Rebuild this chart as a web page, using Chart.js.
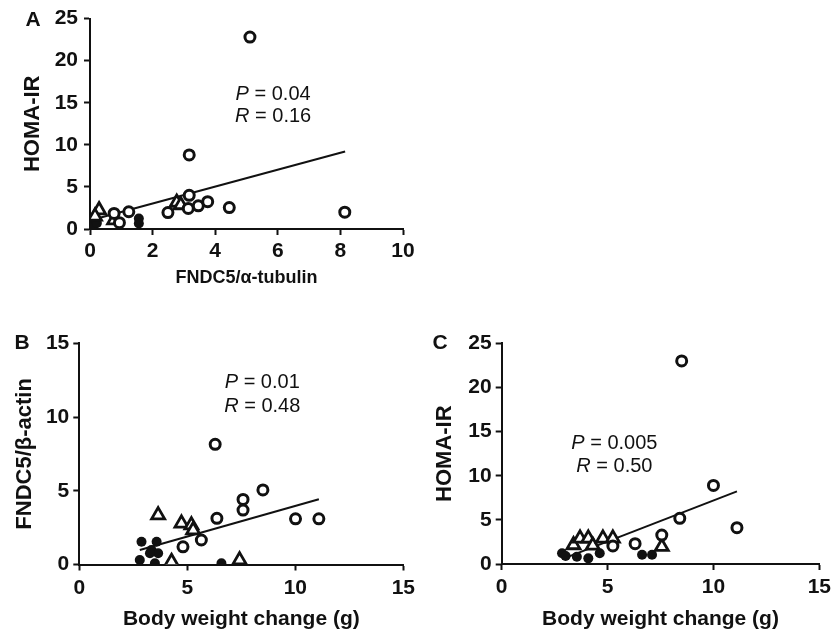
<!DOCTYPE html>
<html><head><meta charset="utf-8">
<script src="https://cdn.jsdelivr.net/npm/chart.js@4.4.1/dist/chart.umd.min.js"></script>
<style>
body{margin:0;background:#fff;width:836px;height:632px;position:relative;overflow:hidden}
.p{position:absolute}
canvas{display:block}
</style></head><body>
<div class="p" style="left:0;top:0"><canvas id="cA" width="420" height="295"></canvas></div>
<div class="p" style="left:0;top:320px"><canvas id="cB" width="420" height="312"></canvas></div>
<div class="p" style="left:420px;top:320px"><canvas id="cC" width="416" height="312"></canvas></div>
<script>
// ---- Panel A: HOMA-IR vs FNDC5/alpha-tubulin ----
const aCircX = [5.11, 3.17, 3.17, 3.14, 3.46, 3.76, 4.45, 8.14, 2.49, 1.24, 0.77, 0.94];
const aCircY = [22.8, 8.8, 4.0, 2.45, 2.75, 3.25, 2.55, 2.0, 1.95, 2.05, 1.85, 0.75];
const aTriX = [0.29, 0.16, 0.77, 2.77, 2.9];
const aTriY = [2.25, 1.5, 1.05, 3.15, 2.85];
const aDotX = [0.02, 0.1, 1.56, 1.56, 0.22];
const aDotY = [1.05, 0.35, 1.25, 0.65, 0.7];
const aFitX = [0.05, 8.15];
const aFitY = [1.06, 9.21];
const aXTicks = [0, 10, 2];   // min, max, step
const aYTicks = [0, 25, 5];
const aStats = ['0.04', '0.16'];

// ---- Panel B: FNDC5/beta-actin vs body weight change ----
const bCircX = [6.29, 8.5, 7.58, 7.58, 6.37, 10.01, 11.09, 5.65, 4.8];
const bCircY = [8.15, 5.06, 4.41, 3.69, 3.13, 3.1, 3.1, 1.66, 1.2];
const bTriX = [3.65, 4.73, 5.19, 5.27, 4.27, 7.42];
const bTriY = [3.35, 2.79, 2.67, 2.33, 0.19, 0.3];
const bDotX = [2.88, 3.58, 3.34, 3.65, 3.27, 2.8, 3.5, 6.58];
const bDotY = [1.54, 1.54, 0.98, 0.76, 0.76, 0.3, 0.08, 0.08];
const bFitX = [2.8, 11.09];
const bFitY = [0.98, 4.43];
const bXTicks = [0, 15, 5];
const bYTicks = [0, 15, 5];
const bStats = ['0.01', '0.48'];

// ---- Panel C: HOMA-IR vs body weight change ----
const cCircX = [8.5, 10.0, 8.41, 11.11, 7.56, 6.3, 5.25];
const cCircY = [23.0, 8.9, 5.17, 4.11, 3.28, 2.3, 2.04];
const cTriX = [3.39, 3.7, 4.09, 4.3, 4.78, 5.25, 7.56];
const cTriY = [2.15, 2.9, 2.9, 2.1, 2.9, 2.9, 1.96];
const cDotX = [2.85, 3.02, 3.55, 4.09, 4.63, 6.63, 7.1];
const cDotY = [1.21, 0.9, 0.83, 0.64, 1.21, 1.05, 1.05];
const cFitX = [2.85, 11.11];
const cFitY = [0.55, 8.22];
const cXTicks = [0, 15, 5];
const cYTicks = [0, 25, 5];
const cStats = ['0.005', '0.50'];

const FONT = '"Liberation Sans", Arial, Helvetica, sans-serif';
const INK = '#111';

function pts(xs, ys){ return xs.map((x,i)=>({x:x, y:ys[i]})); }

function datasets(cx, cy, tx, ty, dx, dy, fx, fy){
  return [
    {type:'scatter', data:pts(cx,cy), pointStyle:'circle', pointRadius:5, borderWidth:3,
     borderColor:INK, backgroundColor:'#fff', pointBackgroundColor:'#fff', order:1},
    {type:'scatter', data:pts(tx,ty), pointStyle:'triangle', pointRadius:7.5, borderWidth:2.8,
     borderColor:INK, backgroundColor:'#fff', pointBackgroundColor:'#fff', order:2},
    {type:'scatter', data:pts(dx,dy), pointStyle:'circle', pointRadius:5, borderWidth:0,
     borderColor:INK, backgroundColor:INK, order:3},
    {type:'line', data:pts(fx,fy), pointRadius:0, borderWidth:2, borderColor:INK,
     showLine:true, fill:false, order:10}
  ];
}

function scales(xt, yt, xTitle, yTitle, o){
  const tickFont = {family:FONT, size:21, weight:'bold'};
  return {
    x:{type:'linear', min:xt[0], max:xt[1],
       ticks:{stepSize:xt[2], color:INK, font:tickFont, padding:o.xPad, maxRotation:0, autoSkip:false},
       grid:{display:true, drawOnChartArea:false, drawTicks:true, tickLength:6, tickWidth:2, tickColor:INK},
       border:{display:true, color:INK, width:2},
       title:{display:true, text:xTitle, color:INK, font:{family:FONT, size:o.xTs, weight:'bold'},
              padding:{top:0, bottom:o.xTp}},
       afterFit(s){ s.height = o.xh; }},
    y:{type:'linear', min:yt[0], max:yt[1],
       ticks:{stepSize:yt[2], color:INK, font:tickFont, padding:o.yPad},
       grid:{display:true, drawOnChartArea:false, drawTicks:true, tickLength:6, tickWidth:2, tickColor:INK},
       border:{display:true, color:INK, width:2},
       title:{display:true, text:yTitle, color:INK, font:{family:FONT, size:o.yTs, weight:'bold'},
              padding:{top:o.yTp, bottom:0}},
       afterFit(s){ s.width = o.yw; }}
  };
}

const notes = {
  id:'notes',
  afterDraw(chart, args, opts){
    const ctx = chart.ctx, xs = chart.scales.x, ys = chart.scales.y;
    ctx.save();
    ctx.fillStyle = INK;
    ctx.textBaseline = 'middle';
    ctx.textAlign = 'left';
    const f1 = 'italic 20px ' + FONT, f2 = '20px ' + FONT;
    (opts.items || []).forEach(it => {
      const px = xs.getPixelForValue(it.x), py = ys.getPixelForValue(it.y);
      ctx.font = f1; const w1 = ctx.measureText(it.l).width;
      ctx.font = f2; const w2 = ctx.measureText(it.r).width;
      const x0 = px - (w1 + w2) / 2;
      ctx.font = f1; ctx.fillText(it.l, x0, py);
      ctx.font = f2; ctx.fillText(it.r, x0 + w1, py);
    });
    if (opts.letter){
      ctx.font = 'bold 21px ' + FONT;
      ctx.textAlign = 'center';
      ctx.fillText(opts.letter.t, opts.letter.x, opts.letter.y);
    }
    ctx.restore();
  }
};

function make(id, ds, sc, pad, noteOpts){
  return new Chart(document.getElementById(id), {
    type:'scatter',
    data:{datasets:ds},
    options:{
      responsive:false, animation:false, devicePixelRatio:1,
      layout:{padding:pad},
      plugins:{legend:{display:false}, tooltip:{enabled:false}, notes:noteOpts},
      scales:sc
    },
    plugins:[notes]
  });
}

make('cA', datasets(aCircX,aCircY,aTriX,aTriY,aDotX,aDotY,aFitX,aFitY),
  scales(aXTicks, aYTicks, 'FNDC5/\u03b1-tubulin', 'HOMA-IR',
    {xh:66, yw:90, xPad:4, yPad:6, xTs:18, xTp:6, yTs:22, yTp:20}),
  {left:0, top:17, right:17, bottom:0},
  {items:[{x:5.85, y:16.0, l:'P', r:' = ' + aStats[0]}, {x:5.85, y:13.4, l:'R', r:' = ' + aStats[1]}],
   letter:{t:'A', x:33, y:20}});

make('cB', datasets(bCircX,bCircY,bTriX,bTriY,bDotX,bDotY,bFitX,bFitY),
  scales(bXTicks, bYTicks, 'Body weight change (g)', 'FNDC5/\u03b2-actin',
    {xh:67.5, yw:79.3, xPad:5, yPad:4, xTs:21, xTp:0.5, yTs:22, yTp:12}),
  {left:0, top:23.3, right:16, bottom:0},
  {items:[{x:8.47, y:12.35, l:'P', r:' = ' + bStats[0]}, {x:8.47, y:10.7, l:'R', r:' = ' + bStats[1]}],
   letter:{t:'B', x:22, y:23}});

make('cC', datasets(cCircX,cCircY,cTriX,cTriY,cDotX,cDotY,cFitX,cFitY),
  scales(cXTicks, cYTicks, 'Body weight change (g)', 'HOMA-IR',
    {xh:68, yw:81.7, xPad:5, yPad:4, xTs:21, xTp:0.5, yTs:22, yTp:12}),
  {left:0, top:23.3, right:11, bottom:0},
  {items:[{x:5.32, y:13.7, l:'P', r:' = ' + cStats[0]}, {x:5.32, y:11.0, l:'R', r:' = ' + cStats[1]}],
   letter:{t:'C', x:20, y:23}});
</script>
</body></html>
